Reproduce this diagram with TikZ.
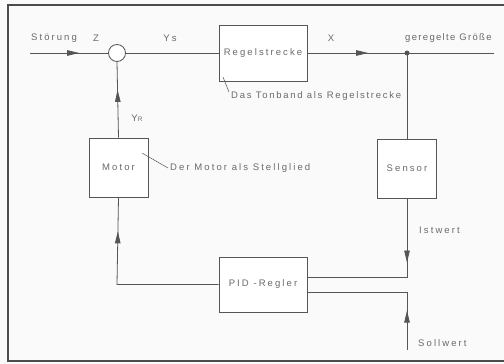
\documentclass[tikz,border=0pt]{standalone}
\usepackage{fontspec}
\setmainfont{Liberation Sans}[LetterSpace=22]
\usetikzlibrary{arrows.meta,decorations.markings,calc}
\definecolor{ink}{HTML}{555555}
\definecolor{txt}{HTML}{6A6A6A}
\definecolor{paper}{HTML}{FBFAFA}
\begin{document}
\begin{tikzpicture}[x=1pt,y=-1pt,
  every node/.style={font=\fontsize{9.5}{11}\selectfont, text=txt, inner sep=0pt},
  blk/.style={draw=ink, line width=0.8pt, minimum width=#1, fill=white},
  wire/.style={draw=ink, line width=0.8pt},
  midarrow/.style={postaction={decorate},decoration={markings,
     mark=at position #1 with {\arrow[ink]{Triangle[length=12pt,width=5.5pt]}}}},
  lbl/.style={anchor=west},
]
\useasboundingbox[fill=paper] (0,0) rectangle (504,364);
% frame
\draw[draw=ink!90!black, line width=1.4pt] (504,5) -- (8,5) -- (8,361) -- (504,361);

% nodes
\node[circle, draw=ink, line width=0.8pt, fill=white, minimum size=17pt] (sum) at (117,53) {};
\node[blk=88pt, minimum height=56pt] (regel) at (263,53) {Regelstrecke};
\node[blk=59pt, minimum height=59pt] (motor) at (118.5,167.5) {Motor};
\node[blk=59pt, minimum height=59pt] (sensor) at (407,168.5) {Sensor};
\node[blk=88pt, minimum height=55pt] (pid) at (263,284.5) {PID -Regler};
\node[circle, fill=ink, minimum size=5pt] (dot) at (407,53) {};

\coordinate (in) at (30,53);
\coordinate (out) at (494,53);
\coordinate (ist) at (407,277);
\coordinate (sollb) at (407,292);
\coordinate (soll) at (407,350);
\coordinate (pidl) at (117,284.5);

% connectors
\path[wire, midarrow=0.63] (in) -- (sum.west);
\path[wire] (sum.east) -- (regel.west);
\path[wire, midarrow=0.61] (regel.east) -- (dot.center);
\path[wire] (dot.center) -- (out);
\path[wire] (dot.center) -- (sensor.north);
\path[wire, midarrow=0.63] (motor.north) -- (sum.south);
\path[wire, midarrow=0.36] (sensor.south) -- (ist) -- (pid.east |- ist);
\path[wire, midarrow=0.82] (pid.west) -- (pidl) -- (motor.south);
\path[wire, midarrow=0.25] (soll) -- (sollb) -- (pid.east |- sollb);

% labels
\node (stoer) at (54,38) {Störung};
\node (z) at (96,38) {Z};
\node (ys) at (170,38) {Ys};
\node (x) at (331,38) {X};
\node[lbl] (gr) at (405,38) {\addfontfeature{LetterSpace=14}geregelte Größe};
\node (yr) at (137,118) {Y{\fontsize{6.5}{7}\selectfont R}};
\node[lbl] (tonband) at (231,96) {\addfontfeature{LetterSpace=18}Das Tonband als Regelstrecke};
\node[lbl] (motlbl) at (170,168) {Der Motor als Stellglied};
\node[lbl] (istlbl) at (419,230) {Istwert};
\node[lbl] (solllbl) at (418,343) {Sollwert};

% leader lines
\coordinate (lt) at (223,77);
\coordinate (lm) at (142,153);
\draw[draw=ink, line width=0.5pt] (lt) -- ($(tonband.west)+(-2,-4)$);
\draw[draw=ink, line width=0.5pt] (lm) -- ($(motlbl.west)+(-2,0)$);
\end{tikzpicture}
\end{document}
